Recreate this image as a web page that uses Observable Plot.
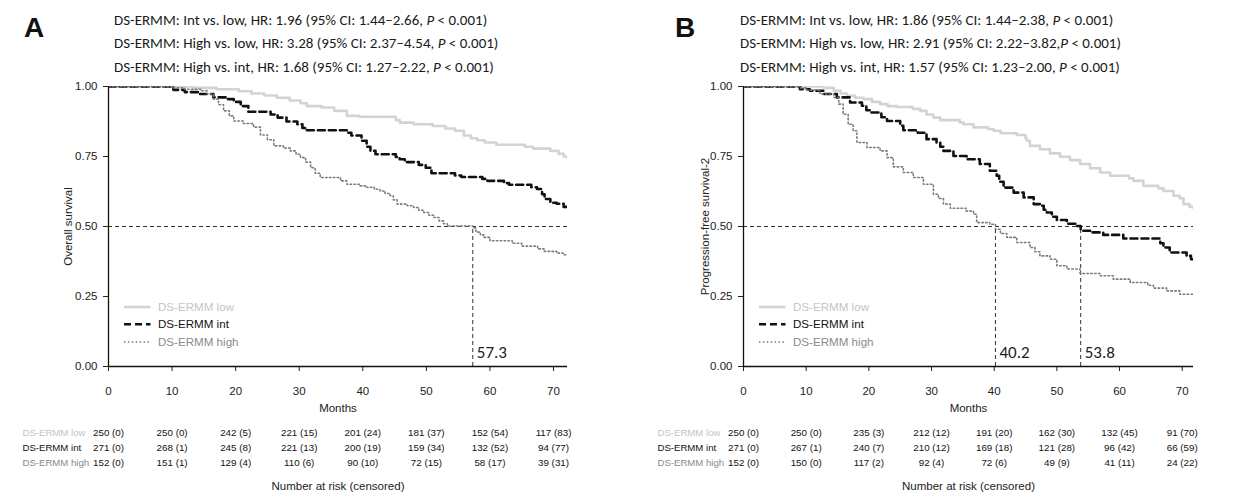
<!DOCTYPE html>
<html><head><meta charset="utf-8">
<script src="https://cdn.jsdelivr.net/npm/d3@7"></script>
<script src="https://cdn.jsdelivr.net/npm/@observablehq/plot@0.6"></script>
<style>
body{margin:0;background:#fff;}
#wrap{position:relative;width:1247px;height:493px;overflow:hidden;background:#fff;}
.panel{position:absolute;top:0;height:493px;}
.hdr{position:absolute;font-family:Carlito,Calibri,Lato,sans-serif;font-size:15px;line-height:1;color:#1a1a1a;white-space:nowrap;}
.letter{position:absolute;font-family:"Liberation Sans",Arial,sans-serif;font-weight:bold;font-size:28px;line-height:1;color:#111;}
</style></head><body><div id="wrap"></div><script>
// ---------- data ----------
const months = [0, 10, 20, 30, 40, 50, 60, 70];
const groups = ["DS-ERMM low", "DS-ERMM int", "DS-ERMM high"];

const hrA = [
  "DS-ERMM: Int vs. low, HR: 1.96 (95% CI: 1.44–2.66, P < 0.001)",
  "DS-ERMM: High vs. low, HR: 3.28 (95% CI: 2.37–4.54, P < 0.001)",
  "DS-ERMM: High vs. int, HR: 1.68 (95% CI: 1.27–2.22, P < 0.001)"
];
const hrB = [
  "DS-ERMM: Int vs. low, HR: 1.86 (95% CI: 1.44–2.38, P < 0.001)",
  "DS-ERMM: High vs. low, HR: 2.91 (95% CI: 2.22–3.82,P < 0.001)",
  "DS-ERMM: High vs. int, HR: 1.57 (95% CI: 1.23–2.00, P < 0.001)"
];

// Overall survival (panel A): [month, survival]
const osLow = [[0,1],[13.4,0.995],[17,0.99],[20.5,0.983],[22.5,0.975],[24.5,0.968],[26.5,0.96],[28.5,0.95],[30.2,0.94],[31.2,0.93],[33.5,0.925],[35.5,0.913],[37.5,0.895],[39.5,0.892],[45.2,0.88],[45.8,0.871],[48,0.865],[51,0.859],[53,0.85],[54.5,0.842],[55.9,0.825],[57,0.815],[58,0.808],[59.2,0.8],[61,0.792],[65.5,0.785],[66.8,0.778],[69.5,0.77],[70.8,0.76],[71.6,0.75],[72.2,0.744]];
const osInt = [[0,1],[10.2,0.988],[12,0.98],[14.4,0.973],[16.5,0.961],[18.5,0.955],[19.7,0.945],[20.8,0.93],[22,0.91],[25.5,0.9],[26.6,0.889],[28,0.875],[29.7,0.865],[30.5,0.852],[31.2,0.844],[37.5,0.835],[38.2,0.825],[39.8,0.806],[40.6,0.785],[41.2,0.77],[42,0.758],[45.2,0.748],[45.8,0.74],[46.6,0.73],[48.8,0.72],[49.9,0.71],[50.8,0.69],[54.5,0.682],[55.5,0.677],[58.8,0.67],[59.6,0.663],[62.2,0.655],[63,0.649],[66.5,0.64],[67.4,0.634],[68.2,0.615],[68.6,0.598],[69.5,0.585],[70.5,0.581],[71.6,0.57],[72.2,0.558]];
const osHigh = [[0,1],[10.2,0.995],[12,0.99],[14.5,0.985],[15.5,0.973],[16.5,0.955],[17.3,0.935],[18.1,0.913],[19,0.895],[19.7,0.877],[21.2,0.868],[22.8,0.855],[23.9,0.827],[25,0.81],[26,0.788],[27.5,0.78],[28.6,0.77],[29.5,0.758],[30.2,0.746],[31,0.73],[31.8,0.71],[32.5,0.69],[33.3,0.675],[36.5,0.663],[37.5,0.651],[39.5,0.645],[40.6,0.64],[41.8,0.633],[42.7,0.627],[43.5,0.618],[44.3,0.61],[44.8,0.595],[45.4,0.58],[47,0.574],[48,0.568],[48.8,0.558],[49.6,0.55],[50.4,0.54],[51.2,0.532],[52,0.52],[52.7,0.51],[53.3,0.502],[57.3,0.495],[57.8,0.48],[58.5,0.47],[59,0.461],[60,0.449],[63.5,0.44],[65,0.43],[67.5,0.42],[68.5,0.411],[70.5,0.405],[71.5,0.399],[72.2,0.399]];

// Progression-free survival-2 (panel B)
const pfsLow = [[0,1],[12.8,0.995],[14.4,0.985],[15.5,0.975],[16.5,0.967],[17.8,0.96],[19.1,0.955],[20.5,0.945],[21.8,0.937],[23,0.93],[24.5,0.927],[27,0.92],[28.2,0.913],[29.2,0.9],[30.3,0.889],[31.4,0.88],[34.5,0.872],[35.1,0.865],[36.7,0.854],[39,0.848],[39.9,0.842],[41,0.833],[43.6,0.827],[45,0.815],[45.2,0.806],[45.7,0.788],[47.3,0.776],[48.9,0.761],[50.5,0.749],[52.1,0.737],[53.7,0.723],[55.3,0.708],[56.9,0.693],[58.5,0.681],[61.5,0.672],[62.2,0.663],[63.8,0.645],[66.2,0.636],[67,0.627],[68.6,0.61],[69.6,0.601],[70.2,0.58],[71.2,0.57],[71.8,0.565]];
const pfsInt = [[0,1],[9,0.99],[10.6,0.985],[12.8,0.973],[14.9,0.961],[17,0.943],[18.9,0.931],[19.6,0.915],[20.2,0.907],[22,0.89],[22.9,0.877],[25,0.86],[25.5,0.844],[27.8,0.835],[29.2,0.812],[30.8,0.8],[31.4,0.785],[31.9,0.77],[33.5,0.752],[35.6,0.74],[37.7,0.723],[39.3,0.699],[40.4,0.681],[40.8,0.66],[41.5,0.639],[43.1,0.621],[44.7,0.604],[46.3,0.58],[47.3,0.574],[47.9,0.56],[48.4,0.55],[49.2,0.535],[50,0.523],[51.6,0.51],[53.2,0.502],[53.8,0.485],[55.3,0.479],[57.4,0.47],[60.6,0.457],[66.5,0.44],[67,0.425],[68,0.407],[70.7,0.395],[71.4,0.383],[71.8,0.383]];
const pfsHigh = [[0,1],[9,0.995],[10.1,0.987],[12.2,0.973],[14.4,0.961],[15.2,0.937],[15.9,0.901],[16.7,0.865],[17.5,0.842],[18.1,0.8],[19.7,0.782],[21.8,0.77],[22.9,0.746],[23.9,0.713],[25.5,0.693],[27.1,0.675],[28.7,0.651],[30.3,0.615],[31.1,0.6],[31.9,0.58],[33,0.565],[35.5,0.555],[36.7,0.544],[37.2,0.514],[39.3,0.508],[40.2,0.49],[41,0.475],[42,0.461],[43.6,0.443],[45.7,0.425],[46.5,0.41],[47.3,0.395],[48.9,0.383],[50,0.36],[51.6,0.348],[53.7,0.332],[56.9,0.324],[59,0.312],[61.7,0.3],[64.5,0.29],[65.4,0.28],[67.5,0.27],[69.6,0.258],[71.8,0.258]];

const mediansA = [57.3];
const mediansB = [40.2, 53.8];

const riskA = [
  ["250 (0)","250 (0)","242 (5)","221 (15)","201 (24)","181 (37)","152 (54)","117 (83)"],
  ["271 (0)","268 (1)","245 (8)","221 (13)","200 (19)","159 (34)","132 (52)","94 (77)"],
  ["152 (0)","151 (1)","129 (4)","110 (6)","90 (10)","72 (15)","58 (17)","39 (31)"]
];
const riskB = [
  ["250 (0)","250 (0)","235 (3)","212 (12)","191 (20)","162 (30)","132 (45)","91 (70)"],
  ["271 (0)","267 (1)","240 (7)","210 (12)","169 (18)","121 (28)","96 (42)","66 (59)"],
  ["152 (0)","150 (0)","117 (2)","92 (4)","72 (6)","49 (9)","41 (11)","24 (22)"]
];

// ---------- styles ----------
const styles = [
  {stroke: "#d3d3d3", strokeWidth: 2.6, dash: null, label: "#c4c4c4"},
  {stroke: "#111111", strokeWidth: 2.6, dash: "7,4", label: "#111111"},
  {stroke: "#7a7a7a", strokeWidth: 1.6, dash: "1.5,2.4", label: "#8a8a8a"}
];

const wrap = document.getElementById("wrap");

function makePanel(o) {
  const div = document.createElement("div");
  div.className = "panel";
  div.style.left = o.left + "px";
  div.style.width = o.width + "px";
  wrap.appendChild(div);

  const toRows = arr => arr.map(([t, s]) => ({t, s}));
  const lineMarks = o.curves.map((c, i) => Plot.line(toRows(c), {
    x: "t", y: "s", curve: "step-after",
    stroke: styles[i].stroke, strokeWidth: styles[i].strokeWidth,
    strokeDasharray: styles[i].dash, clip: true
  }));

  const rowDy = [69.5, 84.5, 99.5];
  const riskMarks = [];
  o.risk.forEach((row, r) => {
    riskMarks.push(Plot.text(months, {x: d => d, text: (d, i) => row[i], frameAnchor: "bottom", dy: rowDy[r], fontSize: 9.8, fill: "#111"}));
    riskMarks.push(Plot.text([groups[r]], {frameAnchor: "bottom-left", dx: -86, dy: rowDy[r], textAnchor: "start", fontSize: 9.6, fill: styles[r].label}));
  });

  const legend = (index, scales, values, dim) => {
    const g = d3.create("svg:g").attr("text-anchor", "start");
    const x0 = dim.marginLeft;
    const yb = dim.height - dim.marginBottom;
    const offs = [59, 41.7, 24];
    groups.forEach((name, i) => {
      g.append("line").attr("x1", x0 + 16).attr("x2", x0 + 42.5)
        .attr("y1", yb - offs[i]).attr("y2", yb - offs[i])
        .attr("stroke", styles[i].stroke).attr("stroke-width", styles[i].strokeWidth)
        .attr("stroke-dasharray", styles[i].dash);
      g.append("text").attr("x", x0 + 50).attr("y", yb - offs[i]).attr("dy", "0.35em")
        .attr("text-anchor", "start")
        .attr("fill", styles[i].label).attr("font-size", 11.6).text(name);
    });
    return g.node();
  };

  const svg = Plot.plot({
    width: o.width, height: 493,
    marginLeft: o.mL, marginRight: o.mR, marginTop: 86, marginBottom: 127,
    x: {domain: [0, o.xMax], ticks: months, tickSize: 5, tickPadding: 15, tickFormat: d => String(d), label: null},
    y: {domain: [0, 1], ticks: [0, 0.25, 0.5, 0.75, 1], tickFormat: d3.format(".2f"), tickSize: 5, tickPadding: 6, label: null},
    style: {fontFamily: "'Liberation Sans', Arial, sans-serif", fontSize: "11.5px", color: "#222", background: "white", overflow: "visible"},
    marks: [
      Plot.ruleY([0.5], {stroke: "#333", strokeWidth: 1, strokeDasharray: "4,3"}),
      Plot.ruleX(o.medians, {x: d => d, y1: 0, y2: 0.5, stroke: "#333", strokeWidth: 1, strokeDasharray: "4,3"}),
      ...lineMarks,
      Plot.ruleX([0], {stroke: "#111", strokeWidth: 1.3}),
      Plot.ruleY([0], {stroke: "#111", strokeWidth: 1.3}),
      Plot.text(o.medians, {x: d => d, text: d => d.toFixed(1), frameAnchor: "bottom", dy: -9, dx: 4, textAnchor: "start", fontSize: 17, fontFamily: "Carlito, Calibri, Lato, sans-serif", fill: "#222"}),
      Plot.text([o.ylabel], {frameAnchor: "left", textAnchor: "middle", rotate: -90, dx: -o.ylabOff, fontSize: 11.5, fill: "#222"}),
      Plot.text(["Months"], {frameAnchor: "bottom", dy: 45, fontSize: 11.5, fill: "#222"}),
      Plot.text(["Number at risk (censored)"], {frameAnchor: "bottom", dy: 123, fontSize: 11.5, fill: "#222"}),
      ...riskMarks,
      legend
    ]
  });
  svg.style.position = "absolute";
  svg.style.left = "0px";
  svg.style.top = "0px";
  div.appendChild(svg);

  const L = document.createElement("div");
  L.className = "letter";
  L.style.left = o.letterX + "px";
  L.style.top = "14px";
  L.textContent = o.letter;
  div.appendChild(L);

  o.hr.forEach((line, i) => {
    const h = document.createElement("div");
    h.className = "hdr";
    h.style.left = o.hdrX + "px";
    h.style.top = (13 + i * 23.3) + "px";
    h.innerHTML = line.replace("P <", "<i>P</i> &lt;");
    div.appendChild(h);
  });
}

makePanel({left: 0, width: 620, mL: 108, mR: 53, xMax: 72.2,
  curves: [osLow, osInt, osHigh], medians: mediansA, risk: riskA,
  ylabel: "Overall survival", ylabOff: 40, letter: "A", letterX: 24, hdrX: 114, hr: hrA});
makePanel({left: 620, width: 627, mL: 123, mR: 54, xMax: 71.8,
  curves: [pfsLow, pfsInt, pfsHigh], medians: mediansB, risk: riskB,
  ylabel: "Progression-free survival-2", ylabOff: 38, letter: "B", letterX: 55, hdrX: 120, hr: hrB});
</script></body></html>
